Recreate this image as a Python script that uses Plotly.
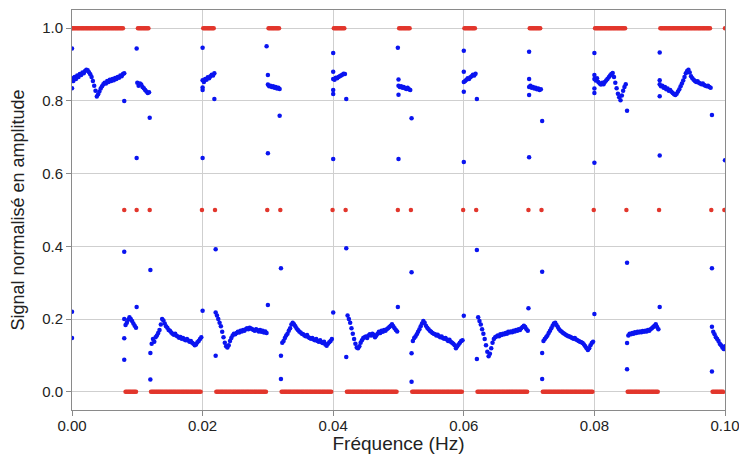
import numpy as np
import plotly.graph_objects as go

STEP = 0.0002  # sampling step of the dense segments (Hz)

# ---------------- Blue signal: dense segments (first x, then values every STEP) ----------------
seg_h1 = [0.862, 0.855, 0.866, 0.860, 0.870, 0.866, 0.874, 0.871, 0.878, 0.876, 0.882, 0.886, 0.884,
          0.879, 0.873, 0.866, 0.855, 0.842, 0.828, 0.812, 0.818, 0.826, 0.834, 0.840, 0.846, 0.850,
          0.848, 0.855, 0.852, 0.858, 0.855, 0.860, 0.857, 0.863, 0.860, 0.866, 0.864, 0.870, 0.868,
          0.874, 0.876]
seg_l1 = [0.184, 0.190, 0.198, 0.205, 0.200, 0.195, 0.188, 0.182, 0.176]
seg_h2 = [0.850, 0.842, 0.848, 0.845, 0.838, 0.835, 0.830, 0.826, 0.822, 0.824]
seg_l2 = [0.132, 0.145, 0.138, 0.150, 0.155, 0.162, 0.170, 0.185, 0.200, 0.196, 0.188, 0.180, 0.176,
          0.170, 0.168, 0.163, 0.160, 0.157, 0.160, 0.154, 0.152, 0.149, 0.151, 0.146, 0.148, 0.144,
          0.142, 0.145, 0.141, 0.138, 0.140, 0.135, 0.132, 0.128, 0.130, 0.136, 0.140, 0.145, 0.150]
seg_h3 = [0.857, 0.852, 0.860, 0.858, 0.865, 0.862, 0.868, 0.872, 0.870, 0.876]
seg_l3 = [0.210, 0.200, 0.190, 0.180, 0.165, 0.150, 0.135, 0.125, 0.122, 0.128, 0.140, 0.148, 0.155,
          0.160, 0.158, 0.162, 0.165, 0.163, 0.168, 0.166, 0.170, 0.168, 0.172, 0.175, 0.172, 0.176,
          0.174, 0.172, 0.170, 0.168, 0.172, 0.169, 0.166, 0.170, 0.165, 0.168, 0.163, 0.166, 0.162]
seg_h4 = [0.845, 0.840, 0.842, 0.838, 0.840, 0.836, 0.838, 0.834, 0.836, 0.833]
seg_l4 = [0.135, 0.140, 0.148, 0.155, 0.160, 0.168, 0.175, 0.185, 0.190, 0.186, 0.180, 0.174, 0.170,
          0.166, 0.163, 0.160, 0.158, 0.155, 0.153, 0.156, 0.150, 0.148, 0.146, 0.148, 0.144, 0.142,
          0.145, 0.140, 0.138, 0.142, 0.136, 0.134, 0.138, 0.130, 0.127, 0.132, 0.136, 0.140, 0.145]
seg_h5 = [0.860, 0.858, 0.864, 0.862, 0.866, 0.868, 0.870, 0.872, 0.875, 0.874]
seg_l5 = [0.210, 0.200, 0.190, 0.175, 0.160, 0.145, 0.132, 0.122, 0.120, 0.125, 0.135, 0.142, 0.148,
          0.150, 0.152, 0.148, 0.155, 0.158, 0.155, 0.160, 0.157, 0.150, 0.155, 0.160, 0.165, 0.162,
          0.168, 0.165, 0.170, 0.168, 0.172, 0.175, 0.178, 0.182, 0.186, 0.180, 0.175, 0.170, 0.166]
seg_h6 = [0.842, 0.838, 0.840, 0.836, 0.838, 0.835, 0.833, 0.836, 0.832, 0.830]
seg_l6 = [0.140, 0.148, 0.152, 0.158, 0.165, 0.172, 0.180, 0.188, 0.195, 0.190, 0.182, 0.176, 0.172,
          0.168, 0.165, 0.162, 0.160, 0.158, 0.155, 0.157, 0.153, 0.150, 0.152, 0.148, 0.146, 0.148,
          0.144, 0.140, 0.143, 0.138, 0.135, 0.132, 0.128, 0.120, 0.125, 0.130, 0.135, 0.140, 0.142]
seg_h7 = [0.852, 0.855, 0.858, 0.862, 0.860, 0.865, 0.868, 0.872, 0.870, 0.875]
seg_l7 = [0.205, 0.195, 0.185, 0.172, 0.160, 0.145, 0.128, 0.110, 0.098, 0.105, 0.120, 0.135, 0.145,
          0.150, 0.152, 0.155, 0.153, 0.158, 0.156, 0.160, 0.158, 0.162, 0.160, 0.165, 0.163, 0.166,
          0.164, 0.168, 0.166, 0.170, 0.168, 0.172, 0.170, 0.175, 0.178, 0.182, 0.178, 0.172, 0.168]
seg_h8 = [0.838, 0.842, 0.836, 0.838, 0.834, 0.836, 0.832, 0.834, 0.830, 0.832]
seg_l8 = [0.140, 0.145, 0.150, 0.155, 0.162, 0.168, 0.175, 0.182, 0.188, 0.190, 0.184, 0.178, 0.172,
          0.168, 0.165, 0.162, 0.160, 0.157, 0.155, 0.153, 0.152, 0.150, 0.148, 0.146, 0.148, 0.144,
          0.142, 0.140, 0.138, 0.136, 0.134, 0.130, 0.125, 0.120, 0.115, 0.120, 0.128, 0.134, 0.138]
seg_h9 = [0.860, 0.856, 0.862, 0.852, 0.848, 0.845, 0.850, 0.846, 0.852, 0.856, 0.860, 0.865, 0.870,
          0.874, 0.877, 0.866, 0.850, 0.835, 0.820, 0.810, 0.802, 0.815, 0.828, 0.838, 0.846]
seg_l9 = [0.155, 0.160, 0.158, 0.162, 0.160, 0.164, 0.162, 0.165, 0.163, 0.166, 0.164, 0.167, 0.165,
          0.168, 0.166, 0.170, 0.168, 0.172, 0.175, 0.178, 0.182, 0.186, 0.178, 0.172]
seg_h10 = [0.846, 0.840, 0.842, 0.836, 0.838, 0.832, 0.834, 0.828, 0.830, 0.825, 0.822, 0.818, 0.816,
           0.820, 0.826, 0.832, 0.840, 0.848, 0.856, 0.866, 0.876, 0.882, 0.886, 0.878, 0.868, 0.862,
           0.858, 0.855, 0.852, 0.854, 0.850, 0.848, 0.846, 0.848, 0.844, 0.842, 0.840, 0.842, 0.838,
           0.836]
seg_l10 = [0.165, 0.158, 0.150, 0.145, 0.140, 0.132, 0.128, 0.122, 0.118, 0.125]

blue_seg_starts = [0.0000, 0.0082, 0.0100, 0.0122, 0.0200, 0.0222, 0.0300, 0.0322, 0.0400, 0.0422,
                   0.0500, 0.0522, 0.0600, 0.0622, 0.0700, 0.0722, 0.0800, 0.0852, 0.0900, 0.0982]
blue_segments = [seg_h1, seg_l1, seg_h2, seg_l2, seg_h3, seg_l3, seg_h4, seg_l4, seg_h5, seg_l5,
                 seg_h6, seg_l6, seg_h7, seg_l7, seg_h8, seg_l8, seg_h9, seg_l9, seg_h10, seg_l10]

# ---------------- Blue signal: isolated points at the transitions ----------------
outlier_x = [0.0, 0.0, 0.0, 0.0,
             0.0080, 0.0080, 0.0080, 0.0080, 0.0080,
             0.0099, 0.0099, 0.0099,
             0.0119, 0.0120, 0.0120, 0.0120,
             0.0200, 0.0200, 0.0200, 0.0200, 0.0200,
             0.0218, 0.0220, 0.0220, 0.0220,
             0.0298, 0.0300, 0.0300, 0.0300,
             0.0318, 0.0320, 0.0320, 0.0320,
             0.0400, 0.0400, 0.0400, 0.0400, 0.0400, 0.0400,
             0.0420, 0.0420, 0.0420,
             0.0499, 0.0500, 0.0499, 0.0500, 0.0500,
             0.0520, 0.0520, 0.0520, 0.0520,
             0.0600, 0.0600, 0.0600, 0.0600, 0.0600,
             0.0620, 0.0620, 0.0620,
             0.0700, 0.0700, 0.0699, 0.0700, 0.0700,
             0.0720, 0.0720, 0.0720, 0.0720,
             0.0800, 0.0800, 0.0800, 0.0800, 0.0800, 0.0800,
             0.0850, 0.0850, 0.0850, 0.0850,
             0.0900, 0.0900, 0.0900, 0.0900, 0.0900,
             0.0980, 0.0980, 0.0980, 0.0980,
             0.1000]
outlier_y = [0.944, 0.835, 0.220, 0.148,
             0.800, 0.385, 0.200, 0.147, 0.088,
             0.944, 0.643, 0.233,
             0.754, 0.335, 0.107, 0.034,
             0.946, 0.643, 0.223, 0.837, 0.830,
             0.805, 0.392, 0.218, 0.099,
             0.950, 0.656, 0.239, 0.871,
             0.759, 0.340, 0.099, 0.035,
             0.932, 0.640, 0.218, 0.880, 0.830, 0.819,
             0.805, 0.395, 0.096,
             0.946, 0.640, 0.233, 0.859, 0.817,
             0.752, 0.329, 0.106, 0.028,
             0.938, 0.632, 0.209, 0.880, 0.825,
             0.805, 0.390, 0.090,
             0.935, 0.645, 0.230, 0.860, 0.816,
             0.745, 0.330, 0.107, 0.035,
             0.932, 0.630, 0.214, 0.871, 0.834, 0.822,
             0.773, 0.355, 0.134, 0.062,
             0.933, 0.650, 0.233, 0.857, 0.813,
             0.761, 0.340, 0.179, 0.056,
             0.637]

# ---------------- Red reference signal: levels between transitions, 0.5 at each transition ----------------
red_edges = [0.0000, 0.0080, 0.0099, 0.0119, 0.0199, 0.0219, 0.0299, 0.0319, 0.0399, 0.0419, 0.0499,
             0.0519, 0.0599, 0.0619, 0.0699, 0.0719, 0.0799, 0.0849, 0.0899, 0.0979, 0.0999]
red_levels = [1, 0, 1, 0, 1, 0, 1, 0, 1, 0, 1, 0, 1, 0, 1, 0, 1, 0, 1, 0]
red_mid_value = 0.5
red_tail_x = [0.1000]
red_tail_y = [1.0]

x_ticks = [0.00, 0.02, 0.04, 0.06, 0.08, 0.10]
x_tick_text = ["0.00", "0.02", "0.04", "0.06", "0.08", "0.10"]
y_ticks = [0.0, 0.2, 0.4, 0.6, 0.8, 1.0]
y_tick_text = ["0.0", "0.2", "0.4", "0.6", "0.8", "1.0"]

# ---------------- build traces ----------------
bx, by = [], []
for start, vals in zip(blue_seg_starts, blue_segments):
    xs = start + STEP * np.arange(len(vals))
    bx.extend(xs.tolist())
    by.extend(vals)
bx.extend(outlier_x)
by.extend(outlier_y)

rx, ry = [], []
for i, lvl in enumerate(red_levels):
    a, b = red_edges[i], red_edges[i + 1]
    first = a if i == 0 else a + STEP
    xs = np.arange(first, b - STEP * 0.5, STEP)
    rx.extend(xs.tolist())
    ry.extend([lvl] * len(xs))
for e in red_edges[1:]:
    rx.append(e)
    ry.append(red_mid_value)
rx.extend(red_tail_x)
ry.extend(red_tail_y)

fig = go.Figure()
fig.add_trace(go.Scatter(x=rx, y=ry, mode="markers",
                         marker=dict(color="#e2362c", size=4.5, line=dict(width=0)),
                         cliponaxis=True, showlegend=False))
fig.add_trace(go.Scatter(x=bx, y=by, mode="markers",
                         marker=dict(color="#0a14f0", size=4.5, line=dict(width=0)),
                         cliponaxis=True, showlegend=False))

axis_common = dict(
    showgrid=True, gridcolor="#cfcfcf", gridwidth=1,
    showline=True, linecolor="#8a8a8a", linewidth=1, mirror=True,
    ticks="outside", ticklen=5, tickcolor="#8a8a8a",
    zeroline=False, automargin=False, ticklabeloverflow="allow",
    tickfont=dict(family="Liberation Sans, Arial, sans-serif", size=15, color="#222"),
)

fig.update_layout(
    width=739, height=454,
    margin=dict(l=72, r=14, t=10, b=44),
    paper_bgcolor="white", plot_bgcolor="white",
    font=dict(family="Liberation Sans, Arial, sans-serif", color="#222"),
    xaxis=dict(range=[0, 0.1000001], tickvals=x_ticks, ticktext=x_tick_text,
               ticklabelstandoff=-3,
               title=dict(text="Fréquence (Hz)", font=dict(size=19), standoff=0),
               **axis_common),
    yaxis=dict(range=[-0.05, 1.05], tickvals=y_ticks, ticktext=y_tick_text,
               title=dict(text="Signal normalisé en amplitude", font=dict(size=18), standoff=12),
               **axis_common),
)

fig.write_html("out.html",
               config={"displayModeBar": False, "staticPlot": True},
               post_script="document.body.style.margin='0';document.body.style.padding='0';")
